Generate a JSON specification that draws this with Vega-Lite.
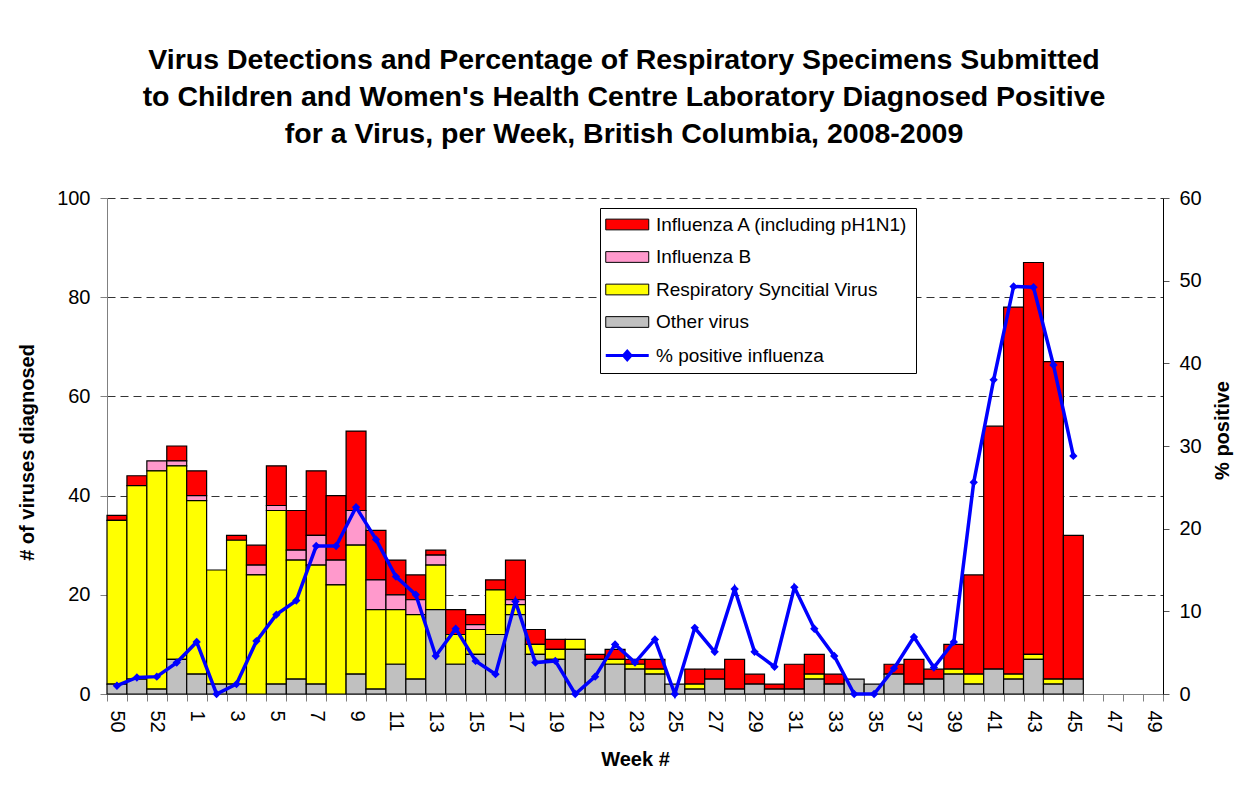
{
  "$schema": "https://vega.github.io/schema/vega-lite/v6.json",
  "width": 1056,
  "height": 496,
  "autosize": {"type": "none"},
  "padding": {"left": 107, "top": 198, "right": 76, "bottom": 99},
  "background": "white",
  "config": {"view": {"stroke": null}, "font": "Liberation Sans"},
  "title": {
    "text": ["Virus Detections and Percentage of Respiratory Specimens Submitted", "to Children and Women's Health Centre Laboratory Diagnosed Positive", "for a Virus, per Week, British Columbia, 2008-2009"],
    "fontSize": 28.5,
    "fontWeight": "bold",
    "font": "Liberation Sans",
    "lineHeight": 37,
    "anchor": "middle",
    "offset": 40,
    "dx": -11,
    "color": "black"
  },
  "data": {
    "values": [
      {"week": "50", "A": 1, "B": 0, "RSV": 33, "Other": 2, "pct": 1.0},
      {"week": "51", "A": 2, "B": 0, "RSV": 39, "Other": 3, "pct": 2.0},
      {"week": "52", "A": 0, "B": 2, "RSV": 44, "Other": 1, "pct": 2.1},
      {"week": "53", "A": 3, "B": 1, "RSV": 39, "Other": 7, "pct": 3.8},
      {"week": "1", "A": 5, "B": 1, "RSV": 35, "Other": 4, "pct": 6.3},
      {"week": "2", "A": 0, "B": 0, "RSV": 23, "Other": 2, "pct": 0},
      {"week": "3", "A": 1, "B": 0, "RSV": 29, "Other": 2, "pct": 1.2},
      {"week": "4", "A": 4, "B": 2, "RSV": 24, "Other": 0, "pct": 6.4},
      {"week": "5", "A": 8, "B": 1, "RSV": 35, "Other": 2, "pct": 9.6},
      {"week": "6", "A": 8, "B": 2, "RSV": 24, "Other": 3, "pct": 11.3},
      {"week": "7", "A": 13, "B": 6, "RSV": 24, "Other": 2, "pct": 17.9},
      {"week": "8", "A": 13, "B": 5, "RSV": 22, "Other": 0, "pct": 17.9},
      {"week": "9", "A": 16, "B": 7, "RSV": 26, "Other": 4, "pct": 22.6},
      {"week": "10", "A": 10, "B": 6, "RSV": 16, "Other": 1, "pct": 18.7},
      {"week": "11", "A": 7, "B": 3, "RSV": 11, "Other": 6, "pct": 14.2},
      {"week": "12", "A": 5, "B": 3, "RSV": 13, "Other": 3, "pct": 12.0},
      {"week": "13", "A": 1, "B": 2, "RSV": 9, "Other": 17, "pct": 4.6},
      {"week": "14", "A": 5, "B": 0, "RSV": 6, "Other": 6, "pct": 7.9},
      {"week": "15", "A": 2, "B": 1, "RSV": 5, "Other": 8, "pct": 4.0},
      {"week": "16", "A": 2, "B": 0, "RSV": 9, "Other": 12, "pct": 2.4},
      {"week": "17", "A": 8, "B": 1, "RSV": 2, "Other": 16, "pct": 11.2},
      {"week": "18", "A": 3, "B": 0, "RSV": 2, "Other": 8, "pct": 3.8},
      {"week": "19", "A": 2, "B": 0, "RSV": 2, "Other": 7, "pct": 4.0},
      {"week": "20", "A": 0, "B": 0, "RSV": 2, "Other": 9, "pct": 0},
      {"week": "21", "A": 1, "B": 0, "RSV": 0, "Other": 7, "pct": 2.1},
      {"week": "22", "A": 2, "B": 0, "RSV": 1, "Other": 6, "pct": 6.0},
      {"week": "23", "A": 1, "B": 0, "RSV": 1, "Other": 5, "pct": 3.8},
      {"week": "24", "A": 2, "B": 0, "RSV": 1, "Other": 4, "pct": 6.6},
      {"week": "25", "A": 0, "B": 0, "RSV": 0, "Other": 2, "pct": 0},
      {"week": "26", "A": 3, "B": 0, "RSV": 1, "Other": 1, "pct": 8.0},
      {"week": "27", "A": 2, "B": 0, "RSV": 0, "Other": 3, "pct": 5.1},
      {"week": "28", "A": 6, "B": 0, "RSV": 0, "Other": 1, "pct": 12.7},
      {"week": "29", "A": 2, "B": 0, "RSV": 0, "Other": 2, "pct": 5.1},
      {"week": "30", "A": 1, "B": 0, "RSV": 0, "Other": 1, "pct": 3.3},
      {"week": "31", "A": 5, "B": 0, "RSV": 0, "Other": 1, "pct": 12.9},
      {"week": "32", "A": 4, "B": 0, "RSV": 1, "Other": 3, "pct": 7.9},
      {"week": "33", "A": 2, "B": 0, "RSV": 0, "Other": 2, "pct": 4.6},
      {"week": "34", "A": 0, "B": 0, "RSV": 0, "Other": 3, "pct": 0},
      {"week": "35", "A": 0, "B": 0, "RSV": 0, "Other": 2, "pct": 0},
      {"week": "36", "A": 2, "B": 0, "RSV": 0, "Other": 4, "pct": 3.1},
      {"week": "37", "A": 5, "B": 0, "RSV": 0, "Other": 2, "pct": 6.9},
      {"week": "38", "A": 2, "B": 0, "RSV": 0, "Other": 3, "pct": 3.2},
      {"week": "39", "A": 5, "B": 0, "RSV": 1, "Other": 4, "pct": 6.3},
      {"week": "40", "A": 20, "B": 0, "RSV": 2, "Other": 2, "pct": 25.6},
      {"week": "41", "A": 49, "B": 0, "RSV": 0, "Other": 5, "pct": 38.0},
      {"week": "42", "A": 74, "B": 0, "RSV": 1, "Other": 3, "pct": 49.3},
      {"week": "43", "A": 79, "B": 0, "RSV": 1, "Other": 7, "pct": 49.2},
      {"week": "44", "A": 64, "B": 0, "RSV": 1, "Other": 2, "pct": 39.8},
      {"week": "45", "A": 29, "B": 0, "RSV": 0, "Other": 3, "pct": 28.8}
    ]
  },
  "encoding": {
    "x": {
      "field": "week",
      "type": "nominal",
      "scale": {
        "domain": ["50","51","52","53","1","2","3","4","5","6","7","8","9","10","11","12","13","14","15","16","17","18","19","20","21","22","23","24","25","26","27","28","29","30","31","32","33","34","35","36","37","38","39","40","41","42","43","44","45","46","47","48","49"],
        "paddingInner": 0,
        "paddingOuter": 0
      },
      "axis": {
        "title": "Week #",
        "titleFontSize": 20,
        "titleFontWeight": "bold",
        "titleColor": "black",
        "titleY": 65,
        "titleBaseline": "middle",
        "labelAngle": 90,
        "labelFontSize": 20,
        "labelColor": "black",
        "labelPadding": 9,
        "labelOverlap": false,
        "labelExpr": "(toNumber(datum.value) >= 50 ? toNumber(datum.value) % 2 == 0 : toNumber(datum.value) % 2 == 1) ? datum.label : ''",
        "tickSize": 7,
        "tickBand": "extent",
        "tickColor": "#808080",
        "domainColor": "#808080"
      }
    }
  },
  "layer": [
    {
      "transform": [
        {"fold": ["A", "B", "RSV", "Other"], "as": ["virus", "n"]},
        {"filter": "datum.n > 0"},
        {"calculate": "indexof(['Other','RSV','B','A'], datum.virus)", "as": "ord"}
      ],
      "mark": {"type": "bar", "stroke": "black", "strokeWidth": 1.2},
      "encoding": {
        "y": {
          "field": "n",
          "type": "quantitative",
          "stack": "zero",
          "scale": {"domain": [0, 100]},
          "axis": {
            "title": "# of viruses diagnosed",
            "titleFontSize": 20,
            "titleFontWeight": "bold",
            "titleColor": "black",
            "titleAngle": 270,
            "titleX": -80,
            "titleY": 254,
            "titleAlign": "center",
            "titleBaseline": "middle",
            "values": [0, 20, 40, 60, 80, 100],
            "labelFontSize": 20,
            "labelColor": "black",
            "labelPadding": 10,
            "tickSize": 7,
            "tickColor": "#808080",
            "domainColor": "#808080",
            "grid": true,
            "gridDash": [8, 5],
            "gridColor": "#333333",
            "gridWidth": 1
          }
        },
        "fill": {
          "field": "virus",
          "type": "nominal",
          "scale": {
            "domain": ["A", "B", "RSV", "Other", "pct"],
            "range": ["#FF0000", "#FF99CC", "#FFFF00", "#C0C0C0", "#0000FF"]
          },
          "legend": {
            "orient": "none",
            "legendX": 493,
            "legendY": 10,
            "title": null,
            "labelExpr": "{'A':'Influenza A (including pH1N1)','B':'Influenza B','RSV':'Respiratory Syncitial Virus','Other':'Other virus','pct':'% positive influenza'}[datum.label]",
            "labelFontSize": 19,
            "labelColor": "black",
            "labelLimit": 400,
            "labelOffset": 30,
            "rowPadding": 12.5,
            "symbolType": "M-1,-0.5H3V0.5H-1Z",
            "symbolSize": 462,
            "symbolStrokeColor": "black",
            "symbolStrokeWidth": 1,
            "symbolOpacity": 1,
            "strokeColor": "black",
            "fillColor": "white",
            "padding": 7,
            "encode": {
              "symbols": {
                "update": {
                  "shape": {"signal": "datum.value === 'pct' ? 'M-1,0H3M1,-0.4L1.35,0L1,0.4L0.65,0Z' : 'M-1,-0.5H3V0.5H-1Z'"},
                  "stroke": {"signal": "datum.value === 'pct' ? '#0000FF' : 'black'"},
                  "strokeWidth": {"signal": "datum.value === 'pct' ? 3 : 1"}
                }
              }
            }
          }
        },
        "order": {"field": "ord", "type": "quantitative"}
      }
    },
    {
      "mark": {
        "type": "line",
        "color": "#0000FF",
        "strokeWidth": 3.5,
        "point": {"shape": "diamond", "filled": true, "size": 70, "color": "#0000FF"}
      },
      "encoding": {
        "y": {
          "field": "pct",
          "type": "quantitative",
          "scale": {"domain": [0, 60]},
          "axis": {
            "orient": "right",
            "title": "% positive",
            "titleFontSize": 20,
            "titleFontWeight": "bold",
            "titleColor": "black",
            "titleAngle": 270,
            "titleX": 59,
            "titleY": 232,
            "titleAlign": "center",
            "titleBaseline": "middle",
            "values": [0, 10, 20, 30, 40, 50, 60],
            "labelFontSize": 20,
            "labelColor": "black",
            "labelPadding": 10,
            "tickSize": 6,
            "tickColor": "#555555",
            "domainColor": "black",
            "grid": false
          }
        }
      }
    }
  ],
  "resolve": {"scale": {"y": "independent"}}
}
